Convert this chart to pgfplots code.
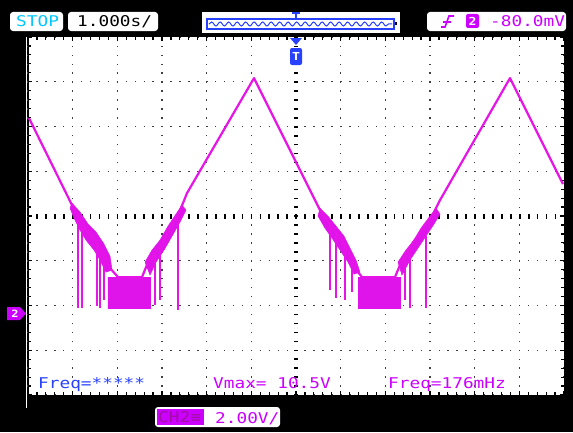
\documentclass[border=0pt]{standalone}
\usepackage{pgfplots}
\pgfplotsset{compat=1.18}
\usepackage{fontspec}
\usetikzlibrary{decorations.pathmorphing}
\newfontfamily\osc[FakeStretch=1.2]{DejaVu Sans Mono}
\newcommand\ofont{\osc\fontsize{14.8bp}{16bp}\selectfont}
\definecolor{trace}{RGB}{230,20,230}
\definecolor{tracefill}{RGB}{222,20,235}
\definecolor{mag}{RGB}{204,0,255}
\definecolor{oblue}{RGB}{40,64,255}
\definecolor{ocyan}{RGB}{0,200,255}
\begin{document}
\begin{tikzpicture}[x=1bp,y=1bp]
\fill[black] (0,0) rectangle (573,432);
\draw[white, line width=1bp] (26,24) -- (26,395);
\begin{axis}[
  at={(28bp,37bp)}, anchor=south west,
  width=536bp, height=358bp, scale only axis,
  xmin=-6, xmax=6, ymin=-3.66, ymax=12.34,
  xtick={-6,-5,...,6},
  ytick={-3.66,-1.66,0.34,2.34,4.34,6.34,8.34,10.34,12.34},
  minor x tick num=4, minor y tick num=4,
  xticklabels={}, yticklabels={},
  tick align=inside, major tick length=4bp, minor tick length=3bp,
  every tick/.style={black, line width=1.2bp},
  axis line style={black, line width=1bp},
  axis background/.style={fill=white},
  grid=major,
  major grid style={black!75, line width=1.4bp, dash pattern=on 1.4bp off 7.54bp, dash phase=0.7bp},
  clip=true,
]
\draw[black, line width=5bp, dash pattern=on 1.8bp off 7.14bp, dash phase=0.9bp] (axis cs:-6,4.34) -- (axis cs:6,4.34);
\draw[black, line width=4bp, dash pattern=on 1.6bp off 7.34bp, dash phase=0.8bp] (axis cs:0,-3.66) -- (axis cs:0,12.34);
% thick noisy bands
\addplot[fill=tracefill, draw=tracefill, line width=0.5bp] coordinates {
(-5.015,4.916) (-4.835,4.514) (-4.656,3.978) (-4.477,3.620) (-4.298,3.084) (-4.164,2.547) (-4.119,1.922)
(-4.253,1.832) (-4.388,2.369) (-4.522,2.816) (-4.701,3.263) (-4.835,3.709) (-4.970,4.246) (-5.059,4.693) (-5.015,4.916)};
\addplot[fill=tracefill, draw=tracefill, line width=0.5bp] coordinates {
(-4.209,0.223) (-3.268,0.223) (-3.268,1.609) (-4.209,1.609) (-4.209,0.223)};
\addplot[fill=tracefill, draw=tracefill, line width=0.5bp] coordinates {
(-3.380,2.279) (-3.224,2.816) (-3.045,3.263) (-2.865,3.888) (-2.686,4.425) (-2.552,4.827)
(-2.462,4.603) (-2.597,4.067) (-2.776,3.441) (-2.955,2.816) (-3.134,2.279) (-3.268,1.698) (-3.380,2.279)};
\addplot[fill=tracefill, draw=tracefill, line width=0.5bp] coordinates {
(0.537,4.693) (0.716,4.335) (0.895,3.888) (1.075,3.441) (1.209,2.905) (1.343,2.369) (1.433,1.832)
(1.298,1.743) (1.164,2.279) (0.985,2.816) (0.806,3.352) (0.649,3.799) (0.493,4.335) (0.537,4.693)};
\addplot[fill=tracefill, draw=tracefill, line width=0.5bp] coordinates {
(1.388,0.223) (2.328,0.223) (2.328,1.609) (1.388,1.609) (1.388,0.223)};
\addplot[fill=tracefill, draw=tracefill, line width=0.5bp] coordinates {
(2.283,2.279) (2.462,2.816) (2.642,3.263) (2.821,3.799) (3.000,4.246) (3.134,4.693)
(3.224,4.425) (3.089,3.978) (2.910,3.441) (2.731,2.905) (2.552,2.369) (2.373,1.698) (2.283,2.279)};
% spikes
\addplot[trace, line width=2bp, unbounded coords=jump] coordinates {
(-4.880,4.380) (-4.880,0.223) (-4.880,nan)
(-4.791,4.067) (-4.791,0.223) (-4.791,nan)
(-4.455,3.263) (-4.455,0.313) (-4.455,nan)
(-4.388,2.905) (-4.388,0.223) (-4.388,nan)
(-4.298,2.592) (-4.298,0.581) (-4.298,nan)
(-3.157,2.682) (-3.157,0.358) (-3.157,nan)
(-3.045,3.039) (-3.045,0.581) (-3.045,nan)
(-2.642,4.380) (-2.642,0.134) (-2.642,nan)
(0.761,3.978) (0.761,1.028) (0.761,nan)
(0.895,3.620) (0.895,0.670) (0.895,nan)
(1.097,3.039) (1.097,0.581) (1.097,nan)
(1.254,2.592) (1.254,0.939) (1.254,nan)
(2.440,2.592) (2.440,0.581) (2.440,nan)
(2.552,2.950) (2.552,0.223) (2.552,nan)
(2.910,3.441) (2.910,0.223)
};
% main trace
\addplot[trace, line width=2.2bp, line join=round] coordinates {
(-5.977,8.715) (-5.015,4.827) (-4.880,4.380) (-4.791,4.067) (-4.701,3.709) (-4.567,3.441) (-4.477,3.128)
(-4.343,2.816) (-4.253,2.458) (-4.164,2.011) (-3.985,1.609) (-3.447,1.609) (-3.313,2.279) (-3.157,2.682)
(-3.000,3.039) (-2.865,3.620) (-2.754,4.067) (-2.642,4.380) (-2.530,4.916) (-2.440,5.363) (-0.940,10.503)
(0.537,4.603) (0.649,4.246) (0.761,3.978) (0.895,3.620) (1.030,3.263) (1.164,2.816) (1.276,2.369)
(1.388,1.832) (1.478,1.609) (2.216,1.609) (2.328,2.145) (2.440,2.592) (2.552,2.950) (2.686,3.352)
(2.821,3.799) (2.955,4.156) (3.089,4.514) (3.224,5.050) (4.791,10.503) (5.977,5.765)
};
\end{axis}
% bottom texts in screen
\node[anchor=base west, inner sep=0] at (38,44) {\ofont\color{oblue}Freq=*****};
\node[anchor=base west, inner sep=0] at (213,44) {\ofont\color{mag}Vmax= 10.5V};
\node[anchor=base west, inner sep=0] at (388,44) {\ofont\color{mag}Freq=176mHz};
% top bar
\fill[white, rounded corners=3bp] (10,401) rectangle (63,420);
\node[anchor=base west, inner sep=0] at (16,405) {\ofont\color{ocyan}STOP};
\fill[white, rounded corners=3bp] (68,401) rectangle (158,420);
\node[anchor=base west, inner sep=0] at (77,405) {\ofont\color{black}1.000s/};
\fill[white] (202,399) rectangle (400,420);
\draw[oblue, line width=1.2bp] (207,403) rectangle (394,413);
\draw[oblue, line width=1bp, decorate, decoration={snake, segment length=8.5bp, amplitude=2bp}] (209,408) -- (392,408);
\draw[oblue, line width=1.4bp] (296,413) -- (296,419) (292,419) -- (300,419);
\fill[black] (395,407) rectangle (397,410);
\fill[white, rounded corners=3bp] (427,401) rectangle (566,420);
\draw[mag, line width=1.6bp] (441,405) -- (445,405) -- (449,416) -- (454,416) (443,410) -- (451,410);
\fill[mag, rounded corners=2bp] (466,404) rectangle (479,418);
\node[anchor=center, inner sep=0] at (472.5,411) {\osc\fontsize{11bp}{12bp}\selectfont\bfseries\color{white}2};
\node[anchor=base west, inner sep=0] at (490,405) {\ofont\color{mag}-80.0mV};
% trigger position marker
\fill[oblue] (290,394) -- (302,394) -- (296,387) -- cycle;
\fill[oblue, rounded corners=2bp] (290,367) rectangle (302,384);
\node[anchor=center, inner sep=0] at (296,375.5) {\osc\fontsize{11bp}{12bp}\selectfont\bfseries\color{white}T};
% channel 2 marker
\fill[mag] (7,125) -- (20,125) -- (26,118.5) -- (20,112) -- (7,112) -- cycle;
\node[anchor=center, inner sep=0] at (15,118.5) {\osc\fontsize{10bp}{11bp}\selectfont\bfseries\color{white}2};
% bottom channel box
\fill[white, rounded corners=3bp] (155,5) rectangle (280,25);
\fill[mag] (157,7) rectangle (204,23);
\node[anchor=base west, inner sep=0] at (158,10) {\ofont\color{trace!70!black}CH2≡};
\node[anchor=base west, inner sep=0] at (215,9) {\ofont\color{mag}2.00V/};
\pgfresetboundingbox
\path (0,0) rectangle (573,432);
\end{tikzpicture}
\end{document}
